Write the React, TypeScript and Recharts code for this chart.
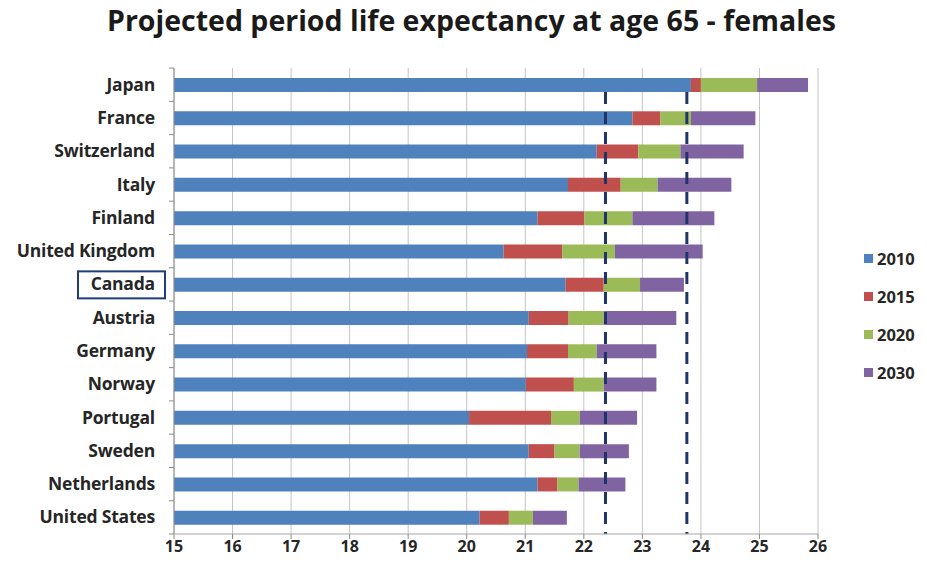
import {
  BarChart,
  Bar,
  XAxis,
  YAxis,
  CartesianGrid,
  ReferenceLine,
} from "recharts";

const countries = [
  "Japan",
  "France",
  "Switzerland",
  "Italy",
  "Finland",
  "United Kingdom",
  "Canada",
  "Austria",
  "Germany",
  "Norway",
  "Portugal",
  "Sweden",
  "Netherlands",
  "United States",
];

// projected period life expectancy at 65 (years), by projection year
const le2010 = [23.83, 22.83, 22.22, 21.73, 21.21, 20.63, 21.69, 21.06, 21.03, 21.01, 20.04, 21.06, 21.21, 20.22];
const le2015 = [24.0, 23.31, 22.93, 22.63, 22.01, 21.63, 22.34, 21.74, 21.73, 21.83, 21.44, 21.5, 21.55, 20.72];
const le2020 = [24.96, 23.83, 23.65, 23.26, 22.83, 22.53, 22.96, 22.34, 22.22, 22.34, 21.93, 21.93, 21.91, 21.13];
const le2030 = [25.83, 24.93, 24.73, 24.52, 24.23, 24.03, 23.71, 23.58, 23.24, 23.24, 22.91, 22.77, 22.71, 21.71];

const years = ["2010", "2015", "2020", "2030"];
const xTicks = [15, 16, 17, 18, 19, 20, 21, 22, 23, 24, 25, 26];
const benchmarks = [22.37, 23.76];

const COLORS = ["#4f81bd", "#c0504d", "#9bbb59", "#8064a2"];
const FONT = "'Open Sans', Lato, sans-serif";

const PLOT_LEFT = 174;
const HIGHLIGHT = "Canada";

// stacked segments: each one is the gain over the previous year
const rows = countries.map((country, i) => ({
  country,
  y2010: le2010[i],
  y2015: le2015[i] - le2010[i],
  y2020: le2020[i] - le2015[i],
  y2030: le2030[i] - le2020[i],
}));

function CountryTick(props: any) {
  const { y, payload, index } = props;
  const band = 33.2;
  const tx = PLOT_LEFT - 19;
  return (
    <g>
      <line x1={PLOT_LEFT - 5} x2={PLOT_LEFT} y1={y - band / 2} y2={y - band / 2} stroke="#8c8c8c" />
      {index === countries.length - 1 && (
        <line x1={PLOT_LEFT - 5} x2={PLOT_LEFT} y1={y + band / 2} y2={y + band / 2} stroke="#8c8c8c" />
      )}
      {payload.value === HIGHLIGHT && (
        <rect x={tx - 77} y={y - 13} width={87} height={27} fill="none" stroke="#1f3d7a" strokeWidth={2} />
      )}
      <text
        x={tx}
        y={y}
        dy={6}
        textAnchor="end"
        fontFamily={FONT}
        fontWeight={700}
        fontSize={17.5}
        letterSpacing={-0.2}
        fill="#262626"
      >
        {payload.value}
      </text>
    </g>
  );
}

function DashedMarker(props: any) {
  const top = Math.min(props.y1, props.y2) + 24;
  const bottom = Math.max(props.y1, props.y2);
  return (
    <line
      x1={props.x1}
      x2={props.x2}
      y1={top}
      y2={bottom}
      stroke="#1f3468"
      strokeWidth={3}
      strokeDasharray="12 8"
    />
  );
}

export default function App() {
  return (
    <div style={{ position: "fixed", left: 0, top: 0, width: 927, height: 571, background: "#fff" }}>
      <div
        style={{
          position: "absolute",
          left: 0,
          top: 1,
          width: 943,
          textAlign: "center",
          fontFamily: FONT,
          fontWeight: 700,
          fontSize: 28.5,
          color: "#1a1a1a",
          whiteSpace: "nowrap",
        }}
      >
        Projected period life expectancy at age 65 - females
      </div>

      <BarChart
        width={927}
        height={571}
        data={rows}
        layout="vertical"
        margin={{ top: 68, right: 109, bottom: 2, left: 0 }}
        barSize={14}
      >
        <CartesianGrid horizontal={false} vertical stroke="#c4c4c4" />
        <XAxis
          type="number"
          domain={[15, 26]}
          ticks={xTicks}
          allowDataOverflow
          axisLine={{ stroke: "#a6a6a6" }}
          tickLine={{ stroke: "#8c8c8c" }}
          tickSize={5}
          height={35}
          tick={{ fontFamily: FONT, fontWeight: 700, fontSize: 16, fill: "#262626" }}
        />
        <YAxis
          type="category"
          dataKey="country"
          width={PLOT_LEFT}
          axisLine={{ stroke: "#8c8c8c" }}
          tickLine={false}
          interval={0}
          tick={<CountryTick />}
        />
        <Bar dataKey="y2010" stackId="le" fill={COLORS[0]} isAnimationActive={false} />
        <Bar dataKey="y2015" stackId="le" fill={COLORS[1]} isAnimationActive={false} />
        <Bar dataKey="y2020" stackId="le" fill={COLORS[2]} isAnimationActive={false} />
        <Bar dataKey="y2030" stackId="le" fill={COLORS[3]} isAnimationActive={false} />
        {benchmarks.map((v) => (
          <ReferenceLine key={v} x={v} shape={<DashedMarker />} />
        ))}
      </BarChart>

      <div style={{ position: "absolute", left: 864, top: 239, fontFamily: FONT, fontWeight: 700, fontSize: 16.5, color: "#262626" }}>
        {years.map((y, i) => (
          <div key={y} style={{ display: "flex", alignItems: "center", height: 38 }}>
            <span style={{ width: 9, height: 9, background: COLORS[i], marginRight: 4 }} />
            {y}
          </div>
        ))}
      </div>
    </div>
  );
}
